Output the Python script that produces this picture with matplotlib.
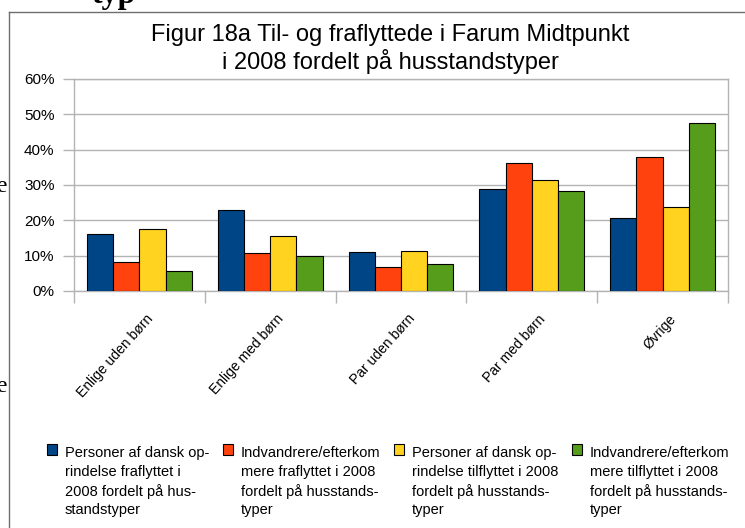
import matplotlib
matplotlib.use('Agg')
import matplotlib.pyplot as plt
from matplotlib.patches import Rectangle
from matplotlib.lines import Line2D
from matplotlib.transforms import ScaledTranslation
import numpy as np

plt.rcParams['font.family'] = ['Liberation Sans', 'DejaVu Sans']

categories = ['Enlige uden børn', 'Enlige med børn', 'Par uden børn', 'Par med børn', 'Øvrige']
dansk_fra = [16.2, 22.9, 10.9, 29.0, 20.7]
indv_fra = [8.3, 10.7, 6.9, 36.3, 37.8]
dansk_til = [17.5, 15.5, 11.4, 31.4, 23.9]
indv_til = [5.8, 9.9, 7.7, 28.4, 47.6]
series_labels = [
    "Personer af dansk op-\nrindelse fraflyttet i\n2008 fordelt på hus-\nstandstyper",
    "Indvandrere/efterkom\nmere fraflyttet i 2008\nfordelt på husstands-\ntyper",
    "Personer af dansk op-\nrindelse tilflyttet i 2008\nfordelt på husstands-\ntyper",
    "Indvandrere/efterkom\nmere tilflyttet i 2008\nfordelt på husstands-\ntyper",
]
colors = ['#004586', '#ff420e', '#ffd320', '#579d1c']
yticks = [0, 10, 20, 30, 40, 50, 60]
title = "Figur 18a Til- og fraflyttede i Farum Midtpunkt\ni 2008 fordelt på husstandstyper"

W, H = 745, 528
fig = plt.figure(figsize=(W / 100, H / 100), dpi=100)


def fx(px):
    return px / W


def fy(py):
    return 1 - py / H


# page frame
fig.add_artist(Line2D([fx(9), fx(9)], [fy(12), fy(530)], color='#6e6e6e', lw=1))
fig.add_artist(Line2D([fx(9), fx(750)], [fy(12), fy(12)], color='#6e6e6e', lw=1))

# stray document text around the frame (cut off in the reference too)
fig.text(fx(92), fy(3), "typ", family='Liberation Serif', weight='bold', fontsize=23,
         ha='left', va='baseline')
fig.text(fx(-4), fy(192), "e", family='Liberation Serif', fontsize=17, ha='left', va='baseline')
fig.text(fx(-4), fy(392), "e", family='Liberation Serif', fontsize=17, ha='left', va='baseline')

ax = fig.add_axes([fx(74), fy(291), (728 - 74) / W, (291 - 79) / H])

series = [dansk_fra, indv_fra, dansk_til, indv_til]
x = np.arange(len(categories))
bw = 0.2
for i, (vals, c) in enumerate(zip(series, colors)):
    ax.bar(x + (i - 1.5) * bw, vals, bw, color=c, edgecolor='black', linewidth=0.8, zorder=3)

ax.set_xlim(-0.5, len(categories) - 0.5)
ax.set_ylim(0, 60)
ax.set_yticks(yticks)
ax.set_yticklabels([f'{v}%' for v in yticks])
ax.yaxis.grid(True, color='#b3b3b3', lw=1)
ax.set_axisbelow(True)
for s in ax.spines.values():
    s.set_color('#b3b3b3')
    s.set_linewidth(1)

ax.tick_params(axis='y', length=8, color='#b3b3b3', width=1, labelsize=11, pad=6)
ax.set_xticks(np.arange(-0.5, len(categories), 1))
ax.set_xticklabels([])
ax.tick_params(axis='x', which='major', length=8.5, color='#b3b3b3', width=1)
ax.set_xticks(x, minor=True)
ax.set_xticklabels(categories, minor=True, rotation=48, ha='right', rotation_mode='anchor')
ax.tick_params(axis='x', which='minor', length=0, labelsize=10, pad=15)
for lab in ax.get_xticklabels(minor=True):
    lab.set_transform(lab.get_transform() + ScaledTranslation(6 / 100, 0, fig.dpi_scale_trans))

fig.text(fx(390), fy(24), title, ha='center', va='top', fontsize=17, linespacing=1.17)

# legend
text_x = [65, 241, 412, 590]
for tx, lab, c in zip(text_x, series_labels, colors):
    fig.add_artist(Rectangle((fx(tx - 18), fy(455)), 10 / W, 11 / H, facecolor=c,
                             edgecolor='black', lw=0.8))
    fig.text(fx(tx), fy(446), lab, ha='left', va='top', fontsize=10.5, linespacing=1.42)

fig.savefig('out.png', dpi=100)
